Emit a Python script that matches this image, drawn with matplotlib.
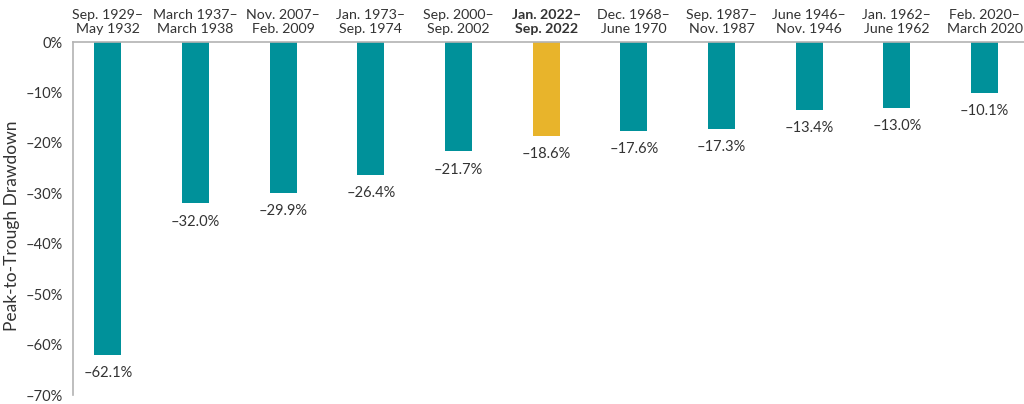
import numpy as np
import matplotlib.pyplot as plt

periods = ['Sep. 1929–\nMay 1932', 'March 1937–\nMarch 1938', 'Nov. 2007–\nFeb. 2009',
           'Jan. 1973–\nSep. 1974', 'Sep. 2000–\nSep. 2002', 'Jan. 2022–\nSep. 2022',
           'Dec. 1968–\nJune 1970', 'Sep. 1987–\nNov. 1987', 'June 1946–\nNov. 1946',
           'Jan. 1962–\nJune 1962', 'Feb. 2020–\nMarch 2020']
drawdown = [-62.1, -32.0, -29.9, -26.4, -21.7, -18.6, -17.6, -17.3, -13.4, -13.0, -10.1]
highlight = 5

plt.rcParams['font.family'] = ['Lato', 'DejaVu Sans']
txt = '#333333'

fig = plt.figure(figsize=(10.24, 4.04), dpi=100)
ax = fig.add_axes([0.071, 0.022, 0.929, 0.874])

x = np.arange(len(drawdown))
colors = ['#e8b42b' if i == highlight else '#00919a' for i in x]
ax.bar(x, drawdown, width=0.31, color=colors, zorder=2)

for i, v in enumerate(drawdown):
    ax.text(i, v - 2.2, f'–{abs(v):.1f}%', ha='center', va='top', fontsize=10.5, color=txt)

ax.set_xlim(-0.4, 10.45)
ax.set_ylim(-70, 0)
ax.set_yticks(np.arange(-70, 1, 10))
ax.set_yticklabels([f'–{abs(t)}%' if t else '0%' for t in range(-70, 1, 10)], fontsize=10.5, color=txt)
ax.tick_params(axis='y', length=0, pad=7)

ax.xaxis.tick_top()
ax.set_xticks(x)
ax.set_xticklabels(periods, fontsize=10.2, color=txt, linespacing=1.2)
ax.get_xticklabels()[highlight].set_fontweight('bold')
ax.tick_params(axis='x', length=0, pad=5)

for s in ['right', 'bottom']:
    ax.spines[s].set_visible(False)
for s in ['left', 'top']:
    ax.spines[s].set_color('#b3b3b3')
    ax.spines[s].set_linewidth(1.2)

fig.text(0.004, 0.44, 'Peak-to-Trough Drawdown', rotation=90, ha='left', va='center',
         fontsize=12.5, color=txt)

plt.savefig('out.png', dpi=100)
